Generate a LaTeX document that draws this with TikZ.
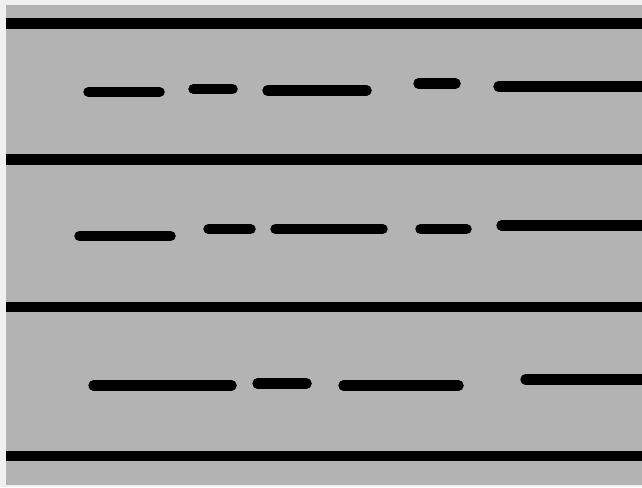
\documentclass[tikz,border=0pt]{standalone}
\definecolor{outer}{HTML}{F0F0F0}
\definecolor{road}{HTML}{B3B3B3}
\begin{document}
\begin{tikzpicture}[x=1pt,y=-1pt,
  edgeline/.style={line width=10.5pt,black},
  lanedash/.style={line width=10.5pt,black,line cap=round}]
\fill[outer] (0,0) rectangle (642,487);
\useasboundingbox (0,0) rectangle (642,487);
\fill[road] (6,5) rectangle (642,485);
% road edges / separators
\draw[edgeline] (6,23.5) -- (642,23.5);
\draw[edgeline] (6,159.5) -- (642,159.5);
\draw[edgeline] (6,307) -- (642,307);
\draw[edgeline] (6,456) -- (642,456);
% row 1
\draw[lanedash] (88.5,92) -- (159.5,92);
\draw[lanedash] (193.5,89) -- (232.5,89);
\draw[lanedash] (267.5,90.5) -- (366.5,90.5);
\draw[lanedash] (418.5,83.5) -- (455.5,83.5);
\draw[lanedash] (498.5,86.5) -- (650,86.5);
% row 2
\draw[lanedash] (79.5,236) -- (170.5,236);
\draw[lanedash] (208.5,229) -- (250.5,229);
\draw[lanedash] (275.5,229) -- (382.5,229);
\draw[lanedash] (420.5,229) -- (466.5,229);
\draw[lanedash] (501.5,225.5) -- (650,225.5);
% row 3
\draw[lanedash] (93.5,385.5) -- (231.5,385.5);
\draw[lanedash] (257.5,383.5) -- (306.5,383.5);
\draw[lanedash] (343.5,385.5) -- (458.5,385.5);
\draw[lanedash] (525.5,379.5) -- (650,379.5);
\end{tikzpicture}
\end{document}
